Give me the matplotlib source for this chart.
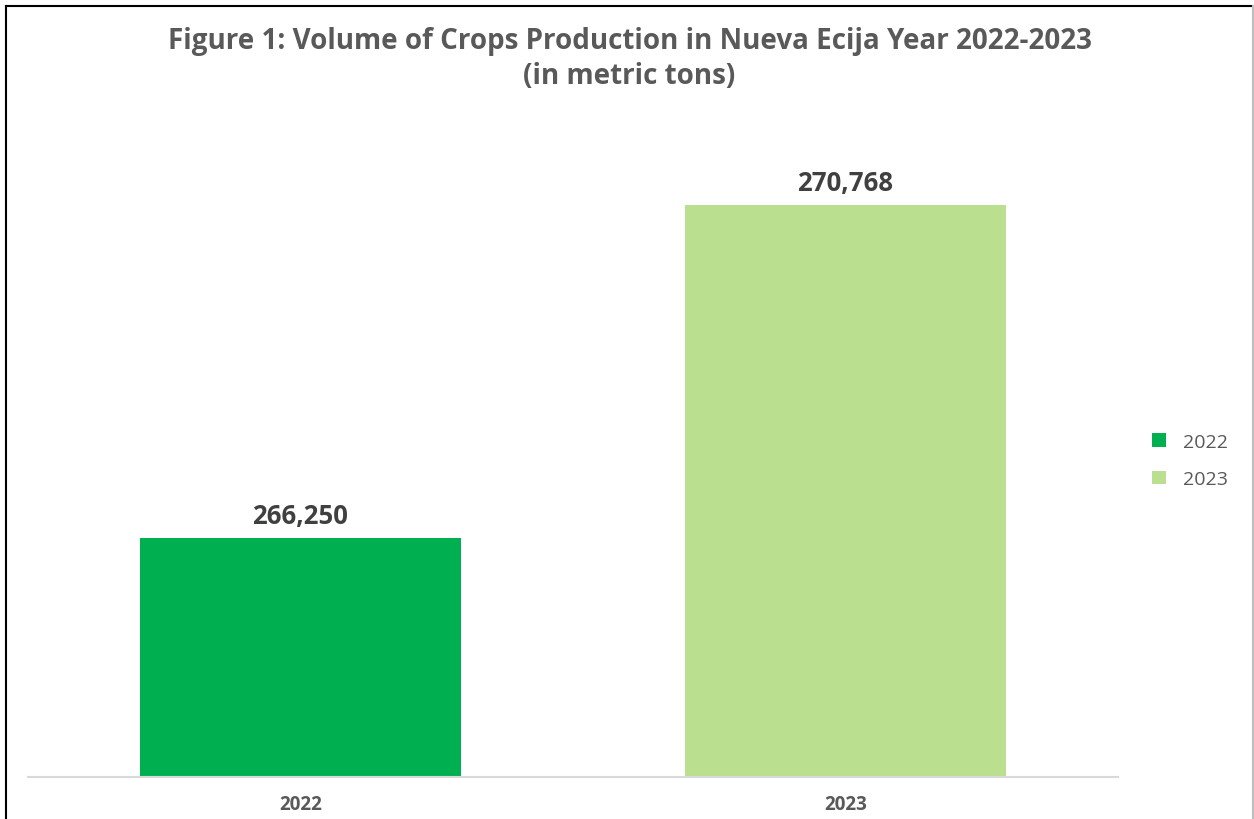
import matplotlib.pyplot as plt
from matplotlib.lines import Line2D
from matplotlib.patches import Patch

years = ["2022", "2023"]
volumes = [266250, 270768]
bar_colors = ["#00B050", "#BADF8F"]

plt.rcParams['font.family'] = ['Open Sans', 'DejaVu Sans']

fig = plt.figure(figsize=(12.54, 8.2), dpi=100)
ax = fig.add_axes([0.0223, 0.0512, 0.8692, 0.8085])

x = range(len(years))
bars = ax.bar(x, volumes, width=0.59, color=bar_colors, zorder=2)
ax.set_xlim(-0.5, 1.5)
ax.set_ylim(263000, 272000)

for b, v in zip(bars, volumes):
    ax.text(b.get_x() + b.get_width() / 2, v + 120, f"{v:,}",
            ha="center", va="bottom", fontsize=18.5, fontweight="bold", color="#404040")

ax.set_xticks(list(x))
ax.set_xticklabels(years, fontsize=13.5, fontweight="bold", color="#595959")
ax.tick_params(axis="x", length=0, pad=12)
ax.set_yticks([])
for s in ["top", "right", "left"]:
    ax.spines[s].set_visible(False)
ax.spines["bottom"].set_color("#D9D9D9")
ax.spines["bottom"].set_linewidth(1.5)

fig.text(0.502, 0.950, "Figure 1: Volume of Crops Production in Nueva Ecija Year 2022-2023",
         ha="center", va="center", fontsize=20, fontweight="bold", color="#595959")
fig.text(0.502, 0.907, "(in metric tons)",
         ha="center", va="center", fontsize=20, fontweight="bold", color="#595959")

handles = [Patch(facecolor=c, edgecolor="none") for c in bar_colors]
leg = fig.legend(handles, years, loc="center left", bbox_to_anchor=(0.905, 0.437),
                 frameon=False, fontsize=14, handlelength=0.7, handleheight=0.7,
                 labelspacing=1.0, handletextpad=0.9)
for t in leg.get_texts():
    t.set_color("#595959")

# outer frame
fig.add_artist(Line2D([0.005, 0.005], [0, 0.992], transform=fig.transFigure, color="black", lw=1.5))
fig.add_artist(Line2D([0.005, 0.999], [0.992, 0.992], transform=fig.transFigure, color="black", lw=1.5))
fig.add_artist(Line2D([0.999, 0.999], [0, 0.992], transform=fig.transFigure, color="#BFBFBF", lw=1.5))

fig.savefig("out.png", dpi=100)
